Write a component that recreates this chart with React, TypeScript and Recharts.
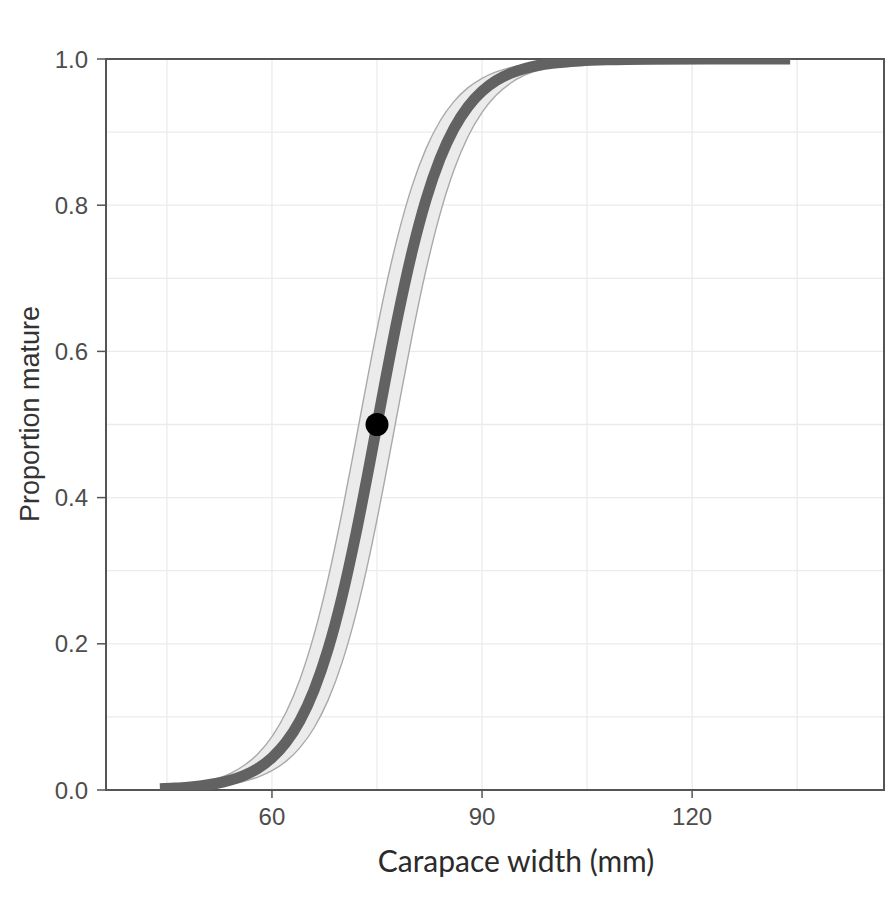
import React from 'react';
import {
  ComposedChart,
  XAxis,
  YAxis,
  CartesianGrid,
  Area,
  Line,
  Scatter,
  ReferenceArea,
} from 'recharts';

// Carapace width (mm) at which the maturity ogive is evaluated
const widths = [
  44, 46, 48, 50, 52, 54, 56, 58, 60, 62, 64, 66, 68, 70, 72, 74, 76, 78, 80,
  82, 84, 86, 88, 90, 92, 94, 96, 98, 100, 104, 108, 114, 122, 134,
];

// Fitted proportion mature
const fitted = [
  0.0017, 0.0026, 0.0039, 0.0059, 0.0089, 0.0133, 0.0199, 0.0297, 0.0442,
  0.0651, 0.0949, 0.1365, 0.1923, 0.2641, 0.3509, 0.4489, 0.5511, 0.6491,
  0.7359, 0.8077, 0.8635, 0.9051, 0.9349, 0.9558, 0.9703, 0.9801, 0.9867,
  0.9911, 0.9941, 0.9974, 0.9989, 0.9997, 0.9999, 1.0,
];

// Lower and upper confidence limits
const lowerCI = [
  0.001, 0.0015, 0.0023, 0.0035, 0.0052, 0.0079, 0.0118, 0.0177, 0.0264,
  0.0392, 0.058, 0.0848, 0.1226, 0.1739, 0.2409, 0.3234, 0.4187, 0.5205,
  0.6206, 0.7114, 0.7878, 0.8484, 0.894, 0.927, 0.9504, 0.9665, 0.9775, 0.985,
  0.99, 0.9956, 0.998, 0.9994, 0.9999, 1.0,
];
const upperCI = [
  0.003, 0.0045, 0.0067, 0.01, 0.015, 0.0225, 0.0335, 0.0496, 0.073, 0.106,
  0.1516, 0.2122, 0.2886, 0.3794, 0.4795, 0.5813, 0.6766, 0.7591, 0.8261,
  0.8774, 0.9152, 0.942, 0.9608, 0.9736, 0.9823, 0.9882, 0.9921, 0.9948,
  0.9965, 0.9985, 0.9993, 0.9999, 1.0, 1.0,
];

// Size at 50% maturity
const l50Width = [75];
const l50Prop = [0.5];

const xTicks = [60, 90, 120];
const xGrid = [45, 60, 75, 90, 105, 120, 135];
const yTicks = [0, 0.2, 0.4, 0.6, 0.8, 1.0];
const yGrid = [0, 0.1, 0.2, 0.3, 0.4, 0.5, 0.6, 0.7, 0.8, 0.9, 1.0];

const rows = widths.map((x, i) => ({
  x,
  fit: fitted[i],
  lo: lowerCI[i],
  hi: upperCI[i],
  band: [lowerCI[i], upperCI[i]],
}));

const l50Points = l50Width.map((x, i) => ({ x, p: l50Prop[i] }));

const tickFont = {
  fill: '#4d4d4d',
  fontSize: 24,
  fontFamily: '"Liberation Sans", Arial, sans-serif',
};

const XTitle = (props: any) => {
  const vb = props.viewBox;
  return (
    <text
      x={vb.x + vb.width / 2 + 21}
      y={vb.y + 82}
      textAnchor="middle"
      fill="#2b2b2b"
      fontSize={30}
      fontFamily="Lato, sans-serif"
    >
      Carapace width (mm)
    </text>
  );
};

const YTitle = () => {
  const cx = 31;
  const cy = 406;
  return (
    <text
      x={cx}
      y={cy}
      transform={`rotate(-90, ${cx}, ${cy})`}
      textAnchor="middle"
      fill="#333"
      fontSize={27}
      fontFamily='"Liberation Sans", Arial, sans-serif'
    >
      Proportion mature
    </text>
  );
};

const Dot = (props: any) => (
  <circle cx={props.cx} cy={props.cy} r={11.5} fill="#000" />
);

export default function App() {
  return (
    <div style={{ width: 885, height: 900, background: '#fff' }}>
      <ComposedChart
        width={885}
        height={900}
        data={rows}
        margin={{ top: 51, right: 9, left: 0, bottom: 58 }}
      >
        <CartesianGrid
          stroke="#ebebeb"
          strokeWidth={1.3}
          horizontalValues={yGrid}
          verticalValues={xGrid}
        />
        <XAxis
          type="number"
          dataKey="x"
          domain={[36.3, 147.4]}
          ticks={xTicks}
          allowDataOverflow
          height={60}
          axisLine={false}
          tickSize={8}
          tickMargin={10}
          tickLine={{ stroke: '#555', strokeWidth: 1.5 }}
          tick={tickFont}
          label={<XTitle />}
        />
        <YAxis
          type="number"
          domain={[0, 1]}
          ticks={yTicks}
          allowDataOverflow
          width={98}
          axisLine={false}
          tickSize={9}
          tickMargin={9}
          tickLine={{ stroke: '#555', strokeWidth: 1.5 }}
          tick={tickFont}
          tickFormatter={(v: number) => v.toFixed(1)}
          label={<YTitle />}
        />
        <Area
          dataKey="band"
          type="monotone"
          fill="#ebebeb"
          fillOpacity={1}
          stroke="none"
          isAnimationActive={false}
        />
        <Line
          dataKey="hi"
          type="monotone"
          stroke="#a9a9a9"
          strokeWidth={1.4}
          dot={false}
          isAnimationActive={false}
        />
        <Line
          dataKey="lo"
          type="monotone"
          stroke="#a9a9a9"
          strokeWidth={1.4}
          dot={false}
          isAnimationActive={false}
        />
        <Line
          dataKey="fit"
          type="monotone"
          stroke="#626262"
          strokeWidth={11}
          dot={false}
          isAnimationActive={false}
        />
        <Scatter
          data={l50Points}
          dataKey="p"
          shape={<Dot />}
          isAnimationActive={false}
        />
        <ReferenceArea
          x1={36.3}
          x2={147.4}
          y1={0}
          y2={1}
          fill="none"
          stroke="#555"
          strokeWidth={2}
        />
      </ComposedChart>
    </div>
  );
}
